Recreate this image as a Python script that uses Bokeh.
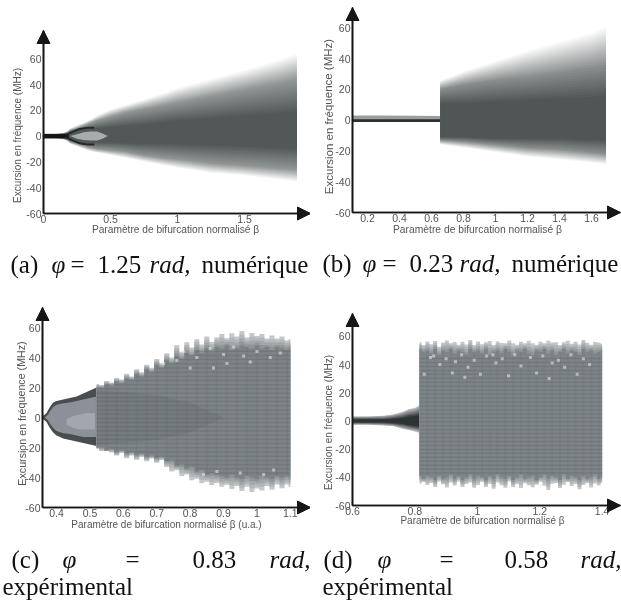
from bokeh.plotting import figure
from bokeh.layouts import column, row
from bokeh.models import Label, Arrow, NormalHead, FixedTicker, Range1d
from bokeh.embed import file_html
from bokeh.resources import INLINE

# ---------- panel (a)
a_beta = [0, .1, .15, .18, .2, .25, .3, .35, .4, .5, .6, .75, .9, 1, 1.25, 1.5, 1.75, 1.89]
a_up_outer = [2, 2, 2.5, 4, 6, 8.5, 10.5, 13, 16, 21, 24, 29, 34, 38, 45, 52, 60, 65]
a_up_mid = [1.5, 1.5, 2, 3, 4.5, 6, 8, 10, 12, 15, 18, 21, 24, 26, 31, 36, 41, 44]
a_up_core = [1, 1, 1.5, 2, 3, 4, 5, 5, 6, 7, 8, 9, 11, 12, 14, 16, 18, 19]
a_lo_core = [-1, -1, -1.5, -2, -3, -4, -5, -5, -5, -5, -5.5, -6, -6, -6.5, -7, -8, -9, -10]
a_lo_mid = [-1.5, -1.5, -2, -3, -4.5, -6, -7.5, -9, -10, -11, -12, -15, -17, -18, -21, -23, -25, -26]
a_lo_outer = [-2, -2, -2.5, -4, -6, -8, -10, -12, -13, -15, -17, -20, -23, -25, -29, -31, -34, -36]
a_bub_beta = [.2, .25, .3, .35, .4, .44, .48]
a_bub_up = [0, 1.5, 3, 3.5, 3.5, 2, 0]
a_bub_lo = [0, -2, -3, -3.5, -3.5, -2, 0]
a_bar_beta = [0, .19]
a_bar_up = [1.7, 1.7]
a_bar_lo = [-1.7, -1.7]
a_branch_beta = [.17, .22, .27, .33, .38]
a_branch_up = [1, 3.5, 5.5, 6.5, 6.5]
a_branch_lo = [-1, -3.5, -5.5, -6.5, -6.5]

# ---------- panel (b)
b0_beta = [.106, .3, .5, .655]
b0_up = [3, 3, 2.8, 2.6]
b0_lo = [-1, -1, -1, -1]
b0_line = [.5, .5, .5, .5]
b_beta = [.655, .8, 1, 1.2, 1.4, 1.6, 1.69]
b_up_outer = [26, 32, 39, 46, 52, 58, 62]
b_up_mid = [20, 23, 26, 28, 31, 34, 36]
b_up_core = [11, 11, 12, 13, 14, 15, 16]
b_lo_core = [-11, -11, -12, -12, -12, -13, -13]
b_lo_mid = [-13, -14, -16, -18, -19, -21, -22]
b_lo_outer = [-16, -18, -21, -24, -26, -28, -29]

# ---------- panel (c)
c0_beta = [.358, .365, .37, .375, .38, .39, .40, .42, .44, .46, .48, .50, .52]
c0_up = [1, 2, 3, 5, 7, 10, 11, 12, 13, 14, 16, 18, 20]
c0_lo = [-1, -2, -3, -5, -7, -10, -12, -14, -15, -16, -17, -18, -19]
c0_in_up = [0, 0, 1, 2, 4, 7, 8.5, 9.5, 10, 11, 12, 13, 14]
c0_in_lo = [0, 0, -1, -2, -4, -7, -9, -10.5, -11, -12, -13, -13, -13]
c1_beta = [.43, .45, .47, .49, .515]
c1_up = [-1, 1, 2, 3, 3]
c1_lo = [-5, -7, -8, -8, -8]
c2_beta = [.52, .6, .7, .8, .9]
c2_up = [18, 17, 15, 10, 0]
c2_lo = [-18, -17, -15, -10, 0]
c_beta = [.52, .535, .55, .565, .58, .595, .61, .625, .64, .655, .67, .685, .70, .715, .73, .745, .76, .775,
          .79, .805, .82, .835, .85, .865, .88, .895, .91, .925, .94, .955, .97, .985, 1.0, 1.015, 1.03,
          1.045, 1.06, 1.075, 1.09, 1.1]
c_up_out = [23, 22, 25, 24, 27, 26, 30, 28, 33, 31, 36, 34, 40, 37, 44, 41, 50, 45, 52, 48, 54, 50, 56, 52,
            55, 58, 54, 59, 56, 60, 55, 59, 56, 58, 54, 57, 54, 56, 53, 54]
c_up_mid = [20, 20, 22, 21, 24, 23, 26, 25, 29, 27, 32, 30, 35, 33, 38, 36, 41, 39, 43, 41, 45, 43, 46, 44,
            47, 46, 48, 45, 46, 48, 47, 46, 48, 46, 47, 45, 47, 46, 45, 46]
c_lo_mid = [-20, -20, -22, -21, -23, -22, -24, -23, -25, -24, -26, -25, -27, -26, -29, -28, -32, -31, -34,
            -33, -36, -35, -38, -37, -38, -39, -40, -38, -40, -41, -39, -40, -41, -39, -40, -41, -39, -40,
            -39, -40]
c_lo_out = [-21, -23, -22, -24, -26, -24, -28, -26, -29, -27, -30, -28, -31, -29, -34, -38, -36, -41, -39,
            -44, -42, -46, -44, -47, -45, -48, -46, -50, -47, -51, -48, -52, -49, -51, -47, -50, -46, -49,
            -46, -48]
c_spk_x = [.78, .82, .86, .9, .93, .96, 1.0, 1.04, 1.07, .84, .88, .95, 1.02, .72, .76, .8, .91, .98, .87, 1.05]
c_spk_y = [44, 40, 46, 42, 47, 41, 44, 40, 43, -38, -36, -37, -38, 36, 38, 33, 36, 37, 33, -35]

# ---------- panel (d)
d0_beta = [.6, .65, .7, .73, .76, .78, .80, .815]
d0_up_out = [3.5, 3.5, 4, 5, 7, 9, 10, 12]
d0_lo_out = [-3, -3, -3.5, -4, -6, -7, -8, -9]
d0_up_in = [1, 1, 1, 1.5, 2, 3, 3.5, 4]
d0_lo_in = [-1, -1, -1, -1.5, -2, -3, -3.5, -4]
d_beta = [.815, .8275, .84, .8525, .865, .8775, .89, .9025, .915, .9275, .94, .9525, .965, .9775, .99, 1.0025,
          1.015, 1.0275, 1.04, 1.0525, 1.065, 1.0775, 1.09, 1.1025, 1.115, 1.1275, 1.14, 1.1525, 1.165, 1.1775,
          1.19, 1.2025, 1.215, 1.2275, 1.24, 1.2525, 1.265, 1.2775, 1.29, 1.3025, 1.315, 1.3275, 1.34, 1.3525,
          1.365, 1.3775, 1.39, 1.4]
d_up_out = [57, 55, 58, 56, 58, 54, 57, 59, 56, 58, 55, 58, 56, 59, 55, 58, 56, 57, 59, 55, 58, 57, 56, 59,
            57, 55, 58, 56, 59, 57, 55, 58, 56, 59, 57, 58, 55, 57, 59, 56, 58, 56, 59, 57, 55, 58, 57, 56]
d_up_mid = [51, 49, 50, 48, 51, 47, 50, 49, 51, 48, 50, 49, 47, 51, 49, 50, 48, 51, 47, 49, 50, 48, 51, 49,
            47, 50, 49, 51, 48, 47, 50, 49, 51, 48, 50, 47, 49, 51, 48, 50, 49, 47, 51, 49, 50, 48, 49, 50]
d_lo_mid = [-39, -41, -39, -40, -42, -39, -41, -40, -38, -41, -39, -42, -40, -38, -41, -39, -40, -42, -39,
            -41, -38, -40, -41, -39, -42, -40, -38, -41, -40, -39, -42, -40, -38, -41, -39, -40, -42, -38,
            -41, -39, -40, -42, -39, -41, -40, -38, -41, -40]
d_lo_out = [-46, -44, -47, -45, -48, -44, -46, -49, -45, -47, -44, -48, -46, -45, -49, -47, -44, -48, -46,
            -50, -45, -47, -49, -44, -48, -46, -50, -45, -47, -49, -46, -44, -48, -51, -46, -45, -49, -47,
            -44, -48, -46, -50, -47, -45, -49, -46, -47, -45]
d_spk_x = [.86, .9, .95, .99, 1.03, 1.08, 1.12, 1.17, 1.21, 1.26, 1.3, 1.34, .88, .93, .97, 1.06, 1.14, 1.24, 1.28, 1.36,
           .83, .92, 1.01, 1.1, 1.19, 1.32, .85, .96, 1.05, 1.23]
d_spk_y = [46, 44, 47, 43, 46, 44, 47, 45, 46, 43, 47, 44, 40, 42, 38, 41, 39, 41, 38, 40,
           33, 34, 33, 32, 34, 33, 45, 31, 47, 30]

# ---------- axes
a_xt = [0, .5, 1, 1.5]
b_xt = [.2, .4, .6, .8, 1, 1.2, 1.4, 1.6]
c_xt = [.4, .5, .6, .7, .8, .9, 1, 1.1]
d_xt = [.6, .8, 1, 1.2, 1.4]
y_ticks = [-60, -40, -20, 0, 20, 40, 60]
Y_TITLE = "Excursion en fréquence (MHz)"
X_TITLE = "Paramètre de bifurcation normalisé β"
X_TITLE_C = "Paramètre de bifurcation normalisé β (u.a.)"

TEXT_SERIF = "Liberation Serif"
AX = "#161616"
TXT = "#555555"


def rgb(h):
    return tuple(int(h[i:i + 2], 16) for i in (1, 3, 5))


def blend(c1, c2, t):
    a, b = rgb(c1), rgb(c2)
    return "#%02x%02x%02x" % tuple(round(a[i] + (b[i] - a[i]) * t) for i in range(3))


def gradient(p, x, ua, la, ub, lb, ca, cb, n=10, step=False):
    for i in range(1, n + 1):
        t = i / n
        u = [m + (k - m) * t for m, k in zip(ua, ub)]
        l = [m + (k - m) * t for m, k in zip(la, lb)]
        c = blend(ca, cb, t)
        if step:
            p.varea_step(x=x, y1=l, y2=u, step_mode="center", fill_color=c)
        else:
            p.varea(x=x, y1=l, y2=u, fill_color=c)


class Panel:
    """A figure whose frame fills its canvas; axes sit at a fixed place inside it."""

    def __init__(self, w, h, cx, cy, ox, oy, kx, ky, x0, xt):
        self.cx, self.cy, self.ox, self.oy, self.kx, self.ky, self.x0 = cx, cy, ox, oy, kx, ky, x0
        xs = self.xd(cx)
        xe = self.xd(cx + w)
        ys = self.yd(cy + h)
        ye = self.yd(cy)
        p = figure(width=w, height=h, output_backend="svg", toolbar_location=None,
                   x_range=Range1d(xs, xe), y_range=Range1d(ys, ye),
                   min_border_left=0, min_border_right=0, min_border_top=0, min_border_bottom=0,
                   styles={"filter": "blur(0.55px)"})
        self.p = p
        p.grid.visible = False
        p.outline_line_color = None
        for ax in (p.xaxis[0], p.yaxis[0]):
            ax.axis_line_color = AX
            ax.axis_line_width = 1.6
            ax.major_tick_line_color = None
            ax.minor_tick_line_color = None
            ax.major_tick_out = 0
            ax.major_tick_in = 0
            ax.major_label_text_color = TXT
            ax.major_label_text_font = "Liberation Sans"
            ax.major_label_text_font_size = "10.5px"
            ax.major_label_standoff = 2
        p.xaxis[0].ticker = FixedTicker(ticks=xt)
        p.yaxis[0].ticker = FixedTicker(ticks=y_ticks)
        p.xaxis[0].fixed_location = -60
        p.yaxis[0].fixed_location = x0
        p.xaxis[0].major_label_standoff = 1
        p.yaxis[0].major_label_overrides = {-60: "-60", -40: "-40", -20: "-20"}

    def xd(self, px):
        return self.x0 + (px - self.ox) / self.kx

    def yd(self, py):
        return -60 + (self.oy - py) / self.ky

    def arrows(self, tipx, tipy):
        p = self.p
        xe, ye = self.xd(tipx), self.yd(tipy)
        p.xaxis[0].bounds = (self.x0, xe)
        p.yaxis[0].bounds = (-60, ye)
        for x1, y1 in ((xe, -60), (self.x0, ye)):
            p.add_layout(Arrow(x_start=self.x0, y_start=-60, x_end=x1, y_end=y1, line_color=AX, line_width=1.6,
                               end=NormalHead(size=13, fill_color=AX, line_color=AX)))

    def put(self, txt, px, py, size, font="Liberation Sans", style="normal", color=TXT, angle=0, align="left"):
        self.p.add_layout(Label(x=self.xd(px), y=self.yd(py), text=txt, text_font=font, text_font_size=size,
                                text_font_style=style, text_color=color, angle=angle, text_align=align,
                                text_baseline="alphabetic"))

    def caption(self, parts, size="25px"):
        for txt, px, py, style in parts:
            self.put(txt, px, py, size, font=TEXT_SERIF, style=style, color="#111111")


def stripes(p, x, up, lo, levels, color="#4a5054", alpha=.22):
    xs, ys = [], []
    for lv in levels:
        idx = [i for i in range(len(x)) if lo[i] < lv < up[i]]
        if idx:
            xs.append([x[idx[0]], x[-1]])
            ys.append([lv, lv])
    p.multi_line(xs, ys, line_color=color, line_alpha=alpha, line_width=1.5)


# ---------- (a)
A = Panel(310, 300, 0, 0, 43, 213, 134, 1.29, 0, a_xt)
pa = A.p
gradient(pa, a_beta, a_up_outer, a_lo_outer, a_up_mid, a_lo_mid, "#ffffff", "#8e9393", 14)
gradient(pa, a_beta, a_up_mid, a_lo_mid, a_up_core, a_lo_core, "#8e9393", "#525858", 12)
pa.varea(x=a_bub_beta, y1=a_bub_lo, y2=a_bub_up, fill_color="#a8acac")
pa.varea(x=a_bar_beta, y1=a_bar_lo, y2=a_bar_up, fill_color="#161616")
pa.line(a_branch_beta, a_branch_up, line_color="#262929", line_width=2)
pa.line(a_branch_beta, a_branch_lo, line_color="#262929", line_width=2)
A.arrows(310, 30)
A.put(Y_TITLE, 17, 135, "10px", angle=1.5708, align="center")
A.put(X_TITLE, 175, 229, "10.2px", align="center")
A.caption([("(a)", 10, 264, "normal"), ("φ", 51, 264, "italic"), ("=", 70, 264, "normal"),
           ("1.25", 97, 264, "normal"), ("rad,", 149, 264, "italic"), ("numérique", 201, 264, "normal")])

# ---------- (b)
B = Panel(311, 300, 310, 0, 352, 212, 160, 1.54, .106, b_xt)
pb = B.p
pb.varea(x=b0_beta, y1=b0_lo, y2=b0_up, fill_color="#9a9d9d")
pb.varea(x=b0_beta, y1=[-1.2] * 4, y2=b0_line, fill_color="#2b2f2f")
gradient(pb, b_beta, b_up_outer, b_lo_outer, b_up_mid, b_lo_mid, "#ffffff", "#868b8b", 14)
gradient(pb, b_beta, b_up_mid, b_lo_mid, b_up_core, b_lo_core, "#868b8b", "#505656", 10)
B.arrows(620, 7)
B.put(Y_TITLE, 328, 116, "11.5px", angle=1.5708, align="center")
B.put(X_TITLE, 477, 229, "10.3px", align="center")
B.caption([("(b)", 322, 263, "normal"), ("φ", 362, 263, "italic"), ("=", 382, 263, "normal"),
           ("0.23", 409, 263, "normal"), ("rad,", 459, 263, "italic"), ("numérique", 511, 263, "normal")])

# ---------- (c)
C = Panel(310, 300, 0, 300, 42, 507, 334, 1.5, .358, c_xt)
pc = C.p
pc.varea(x=c0_beta, y1=c0_lo, y2=c0_up, fill_color="#474d50")
pc.varea(x=c0_beta, y1=c0_in_lo, y2=c0_in_up, fill_color="#8b9099")
pc.varea(x=c1_beta, y1=c1_lo, y2=c1_up, fill_color="#a2a6ae")
gradient(pc, c_beta, c_up_out, c_lo_out, c_up_mid, c_lo_mid, "#d6d8da", "#7d8488", 5, step=True)
pc.varea(x=c2_beta, y1=c2_lo, y2=c2_up, fill_color="#4a5054", fill_alpha=.14)
stripes(pc, c_beta, c_up_mid, c_lo_mid, [i * 2.8 - 37 for i in range(30)])
pc.segment(c_beta[::2], c_lo_mid[::2], c_beta[::2], c_up_mid[::2], line_color="#4a5054", line_alpha=.08, line_width=2)
pc.scatter(c_spk_x, c_spk_y, size=3, marker="square", fill_color="#e3e5e7", fill_alpha=.6, line_color=None)
C.arrows(310, 307)
C.put(Y_TITLE, 21, 413, "10.7px", angle=1.5708, align="center")
C.put(X_TITLE_C, 166, 524, "10px", align="center")
C.caption([("(c)", 11, 559, "normal"), ("φ", 62, 559, "italic"), ("=", 125, 559, "normal"),
           ("0.83", 192, 559, "normal"), ("rad,", 269, 559, "italic"), ("expérimental", 2, 586, "normal")])

# ---------- (d)
D = Panel(311, 300, 310, 300, 352, 505, 312, 1.41, .6, d_xt)
pd = D.p
gradient(pd, d0_beta, d0_up_out, d0_lo_out, d0_up_in, d0_lo_in, "#c9cccc", "#2d3235", 8)
gradient(pd, d_beta, d_up_out, d_lo_out, d_up_mid, d_lo_mid, "#d6d8da", "#7e8589", 5, step=True)
stripes(pd, d_beta, d_up_mid, d_lo_mid, [i * 2.8 - 37 for i in range(30)])
pd.segment(d_beta[::2], d_lo_mid[::2], d_beta[::2], d_up_mid[::2], line_color="#4a5054", line_alpha=.07, line_width=2)
pd.scatter(d_spk_x, d_spk_y, size=3, marker="square", fill_color="#e3e5e7", fill_alpha=.6, line_color=None)
D.arrows(620, 313)
D.put(Y_TITLE, 328, 422, "10px", angle=1.5708, align="center")
D.put(X_TITLE, 482, 520, "10px", align="center")
D.caption([("(d)", 323, 559, "normal"), ("φ", 377, 559, "italic"), ("=", 439, 559, "normal"),
           ("0.58", 504, 559, "normal"), ("rad,", 580, 559, "italic"), ("expérimental", 322, 586, "normal")])

layout = column(row(pa, pb, spacing=0), row(pc, pd, spacing=0), spacing=0)
open("out.html", "w").write(file_html(layout, INLINE))
